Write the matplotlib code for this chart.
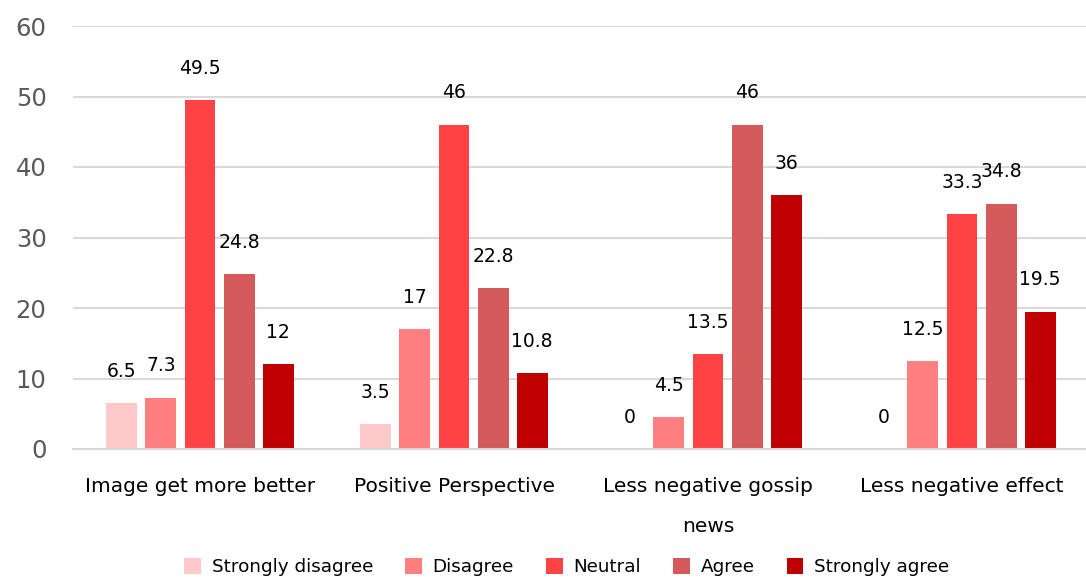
import numpy as np
import matplotlib.pyplot as plt

categories = ['Image get more better', 'Positive Perspective',
              'Less negative gossip\nnews', 'Less negative effect']
series = ['Strongly disagree', 'Disagree', 'Neutral', 'Agree', 'Strongly agree']
strongly_disagree = [6.5, 3.5, 0, 0]
disagree = [7.3, 17, 4.5, 12.5]
neutral = [49.5, 46, 13.5, 33.3]
agree = [24.8, 22.8, 46, 34.8]
strongly_agree = [12, 10.8, 36, 19.5]
colors = ['#FFC9C9', '#FF7F80', '#FF4345', '#D45A5B', '#C00000']

plt.rcParams['font.family'] = ['DejaVu Sans']

fig = plt.figure(figsize=(10.86, 5.80), dpi=100)
ax = fig.add_axes([73 / 1086, 131 / 580, 1016 / 1086, 423 / 580])

x = np.arange(len(categories))
step = 0.154
width = 0.122
values = [strongly_disagree, disagree, neutral, agree, strongly_agree]
for i, (name, vals, c) in enumerate(zip(series, values, colors)):
    bars = ax.bar(x + (i - 2) * step, vals, width, color=c, label=name)
    ax.bar_label(bars, labels=[f'{v:g}' for v in vals], padding=16,
                 fontsize=13.5, color='black')

ax.set_xlim(-0.5, 3.5)
ax.set_ylim(0, 60)
ax.set_yticks(range(0, 61, 10))
ax.yaxis.grid(True, color='#d9d9d9', linewidth=1.5)
ax.set_axisbelow(True)
for s in ['top', 'right', 'left']:
    ax.spines[s].set_visible(False)
ax.spines['bottom'].set_color('#d9d9d9')
ax.spines['bottom'].set_linewidth(1.5)
ax.tick_params(axis='y', length=0, pad=19, labelsize=17.5, labelcolor='#595959')
ax.tick_params(axis='x', length=0, pad=20, labelsize=14.5)
ax.set_xticks(x)
ax.set_xticklabels(categories, linespacing=2.4, va='top')

fig.legend(loc='lower center', bbox_to_anchor=(0.522, -0.022), ncol=5,
           frameon=False, fontsize=13.2, handlelength=0.9, handleheight=0.9,
           handletextpad=0.6, columnspacing=1.75)

fig.savefig('out.png', dpi=100)
